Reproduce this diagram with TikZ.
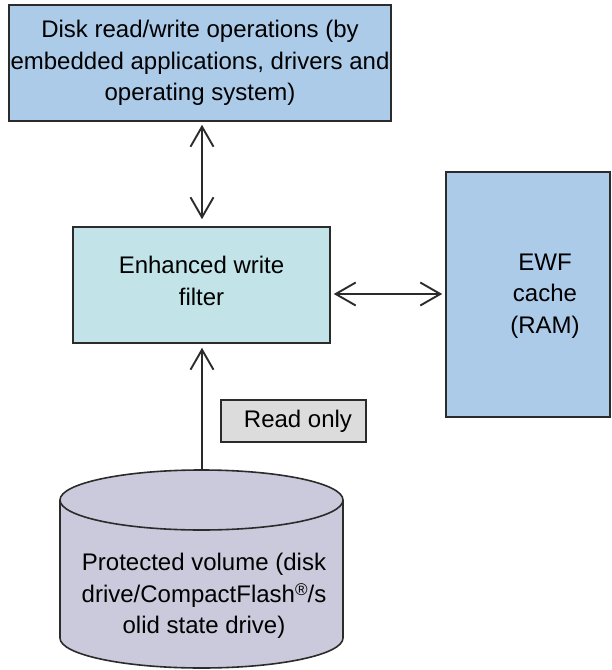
\documentclass[tikz,border=0pt]{standalone}
\usepackage{fontspec}
\setmainfont{Liberation Sans}
\usetikzlibrary{arrows.meta,calc}

\definecolor{boxblue}{HTML}{ABCBE9}
\definecolor{boxcyan}{HTML}{C2E4E8}
\definecolor{diskfill}{HTML}{CACADC}
\definecolor{labelgray}{HTML}{DCDCDC}
\definecolor{edge}{HTML}{2B2B2B}

\tikzset{
  lbl/.style={font=\fontsize{24}{31.5}\selectfont, align=center, text=black},
  block/.style={lbl, draw=edge, line width=1.6pt, inner sep=0pt},
  link/.style={draw=edge, line width=1.9pt,
    arrows={Straight Barb[length=20pt,width=23pt]-Straight Barb[length=20pt,width=23pt]}},
  uplink/.style={draw=edge, line width=1.9pt,
    arrows={-Straight Barb[length=20pt,width=23pt]}},
}

\begin{document}
\begin{tikzpicture}
  \useasboundingbox (0pt,0pt) rectangle (612pt,-670pt);

  % callers of the disk
  \node[block, fill=boxblue, minimum width=382pt, minimum height=116pt]
    (ops) at (200pt,-63pt)
    {Disk read/write operations (by\\embedded applications, drivers and\\operating system)};

  % the filter
  \node[block, fill=boxcyan, minimum width=257pt, minimum height=116pt]
    (ewf) at (201.5pt,-285pt) {};
  \node[lbl] (ewftext) at (201.5pt,-281pt) {Enhanced write\\filter};

  % overlay cache
  \node[block, fill=boxblue, minimum width=164pt, minimum height=245pt]
    (cache) at (528pt,-294.5pt) {};
  \node[lbl] (cachetext) at (545pt,-296pt) {EWF\\cache\\(RAM)};

  % protected volume as a cylinder
  \filldraw[fill=diskfill, draw=edge, line width=1.6pt]
    (60pt,-500pt) -- (60pt,-638pt) arc[start angle=180, end angle=360, x radius=141.5pt, y radius=30pt]
    -- (343pt,-500pt) arc[start angle=0, end angle=180, x radius=141.5pt, y radius=30pt] -- cycle;
  \draw[edge, line width=1.6pt]
    (60pt,-500pt) arc[start angle=180, end angle=360, x radius=141.5pt, y radius=30pt];
  \coordinate (disktop) at (202pt,-470pt);
  \node[lbl] (disk) at (204pt,-596pt)
    {Protected volume (disk\\drive/CompactFlash\raisebox{7pt}{\fontsize{17}{17}\selectfont ®}/s\\olid state drive)};

  % read-only tag
  \node[block, fill=labelgray, minimum width=145pt, minimum height=42pt]
    (ro) at (293.5pt,-421pt) {\hspace*{9pt}Read only};

  % connectors
  \draw[link, shorten <=3pt, shorten >=7pt] (disktop |- ops.south) -- (disktop |- ewf.north);
  \draw[link, shorten <=3pt, shorten >=3pt]
    ([yshift=-9pt]ewf.east) -- ([yshift=-9pt]ewf.east -| cache.west);
  \draw[uplink, shorten >=4pt] (disktop) -- (disktop |- ewf.south);
\end{tikzpicture}
\end{document}
